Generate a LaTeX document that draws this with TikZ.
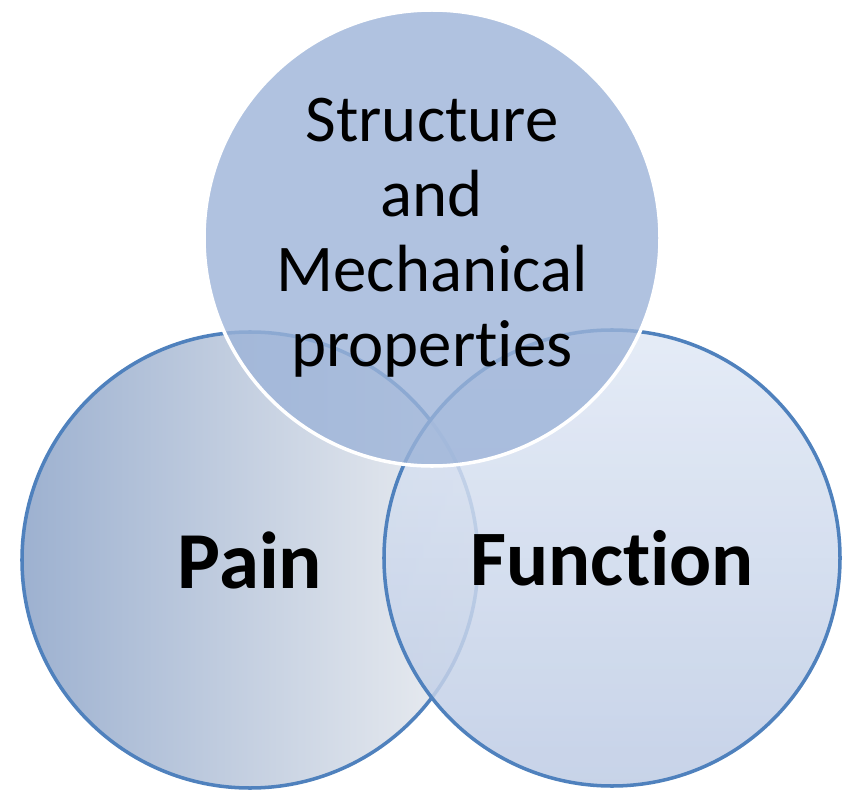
\documentclass[tikz,border=0pt]{standalone}
\usepackage{fontspec}
\setmainfont{Carlito}[Ligatures=NoCommon]
\definecolor{ringblue}{HTML}{4F81BD}
\definecolor{painleft}{HTML}{9DB1D0}
\definecolor{painright}{HTML}{EDEFF2}
\definecolor{functop}{HTML}{E0E8F5}
\definecolor{funcbot}{HTML}{BDCBE4}
\definecolor{structfill}{HTML}{9CB3D8}
\begin{document}
\begin{tikzpicture}[x=0.03cm,y=-0.03cm,
  venn/.style={circle,inner sep=0pt,minimum size=13.68cm,line width=3pt,text opacity=1}]
\useasboundingbox (0,0) rectangle (858,793);
% lower circles
\node[venn,draw=ringblue,left color=painleft,right color=painright,
  font=\fontsize{69}{80}\selectfont\bfseries] (pain) at (250,560) {Pain};
\node[venn,draw=ringblue,top color=functop,bottom color=funcbot,fill opacity=0.85,
  font=\fontsize{67}{78}\selectfont\bfseries] (func) at (612,558) {Function};
% top circle
\node[venn,draw=white,fill=structfill,fill opacity=0.8,align=center,
  font=\fontsize{57}{64}\selectfont] (struct) at (432,238)
  {Structure\\and\\Mechanical\\properties};
\end{tikzpicture}
\end{document}
